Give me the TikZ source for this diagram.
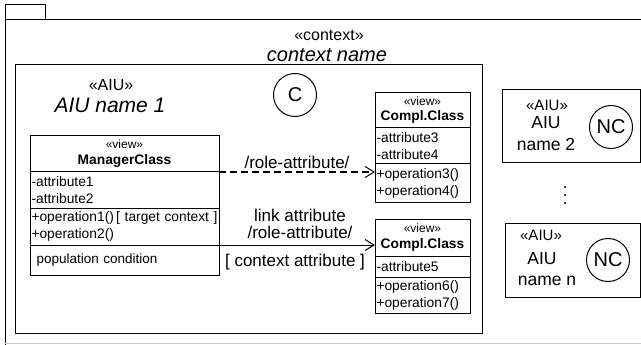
\documentclass[tikz,border=0pt]{standalone}
\usepackage{fontspec}
\setmainfont{Liberation Sans}
\usetikzlibrary{arrows.meta}

\newcommand{\stereo}[1]{{\fontsize{12}{14}\selectfont «#1»}}

\tikzset{
  frame/.style={line width=1pt},
  classpart/.style 2 args={draw, line width=1pt, anchor=north west, outer sep=0pt,
    inner xsep=1.5pt, inner ysep=0pt, text width=#1, minimum height=#2,
    align=left, font=\fontsize{13.8}{17}\selectfont},
  aiubox/.style={draw, line width=1pt, anchor=north west, outer sep=0pt, inner sep=0pt},
  kindcircle/.style={circle, draw, line width=1pt, minimum size=43pt, inner sep=0pt,
    font=\fontsize{20}{24}\selectfont},
  linklabel/.style={font=\fontsize{17}{18}\selectfont, align=center},
  roletip/.style={-{Straight Barb[length=9pt, width=11pt, line width=1pt]}},
}

\begin{document}
\begin{tikzpicture}[x=1pt,y=1pt,yscale=-1,xscale=1]
\useasboundingbox (0,0) rectangle (641,345);

% context frame
\draw[frame] (5,5) rectangle (45,20);
\draw[frame] (641,20) -- (5,20) -- (5,345);
\draw[black!20] (5,343.5) -- (641,343.5);
\node[font=\fontsize{16}{19}\selectfont] (ctxStereo) at (329,35) {«context»};
\node[font=\fontsize{20}{24}\itshape] (ctxName) at (327,55) {context name};

% AIU 1
\draw[frame] (15,65) rectangle (482,333);
\node[font=\fontsize{16}{19}\selectfont] (aiuOneStereo) at (111,85) {«AIU»};
\node[font=\fontsize{21}{24}\itshape] (aiuOneName) at (110,105) {AIU name 1};
\node[kindcircle] (ctxC) at (295,95) {C};

% manager class
\node[classpart={186pt}{36pt}, align=center, font=\fontsize{13.8}{16}\selectfont] (mgrName) at (30,136)
  {\stereo{view}\\\textbf{ManagerClass}};
\node[classpart={186pt}{36pt}] (mgrAttr) at (mgrName.south west) {-attribute1\\-attribute2};
\node[classpart={186pt}{37pt}] (mgrOps) at (mgrAttr.south west)
  {\mbox{+operation1()\,[ target context ]}\\+operation2()};
\node[classpart={186pt}{30pt}, font=\fontsize{13.5}{16}\selectfont] (mgrPop) at (mgrOps.south west)
  {\hspace{5pt}population condition};

% complementary class 1
\node[classpart={92pt}{35pt}, align=center, font=\fontsize{13.8}{15}\selectfont] (ccOneName) at (375,93)
  {\stereo{view}\\\textbf{Compl.Class}};
\node[classpart={92pt}{36pt}] (ccOneAttr) at (ccOneName.south west) {-attribute3\\-attribute4};
\node[classpart={92pt}{38pt}] (ccOneOps) at (ccOneAttr.south west) {+operation3()\\+operation4()};

% complementary class 2
\node[classpart={92pt}{37pt}, align=center, font=\fontsize{13.8}{16}\selectfont] (ccTwoName) at (375,219)
  {\stereo{view}\\\textbf{Compl.Class}};
\node[classpart={92pt}{21pt}] (ccTwoAttr) at (ccTwoName.south west) {-attribute5};
\node[classpart={92pt}{36pt}] (ccTwoOps) at (ccTwoAttr.south west) {+operation6()\\+operation7()};

% links
\draw[roletip, line width=2.2pt, dash pattern=on 7pt off 4pt] (mgrAttr.north east) -- (mgrAttr.north east -| ccOneOps.west);
\draw[roletip, line width=1pt] (mgrOps.south east) -- (mgrOps.south east -| ccTwoName.west);
\node[linklabel] (roleDash) at (297,162) {/role-attribute/};
\node[linklabel] (linkAttr) at (300,215) {link attribute};
\node[linklabel] (roleLink) at (300,232) {/role-attribute/};
\node[linklabel] (ctxAttr) at (295,262) {[ context attribute ]};

% AIU 2
\node[aiubox, minimum width=138pt, minimum height=73pt] (aiuTwo) at (502,90) {};
\node[font=\fontsize{15}{18}\selectfont] (aiuTwoStereo) at (547,105) {«AIU»};
\node[font=\fontsize{17.5}{21}\selectfont] (aiuTwoKind) at (546,123) {AIU};
\node[font=\fontsize{17.5}{21}\selectfont] (aiuTwoName) at (546,144) {name 2};
\node[kindcircle] (ncTwo) at (611,127) {NC};

% more AIUs
\foreach \dy in {187,195,203}
  \fill (565,\dy) circle (1.1pt);

% AIU n
\node[aiubox, minimum width=135pt, minimum height=74pt] (aiuN) at (505,223) {};
\node[font=\fontsize{15}{18}\selectfont] (aiuNStereo) at (541,235) {«AIU»};
\node[font=\fontsize{17.5}{21}\selectfont] (aiuNKind) at (542,259) {AIU};
\node[font=\fontsize{17.5}{21}\selectfont] (aiuNName) at (547,281) {name n};
\node[kindcircle] (ncN) at (608,260) {NC};

\end{tikzpicture}
\end{document}
